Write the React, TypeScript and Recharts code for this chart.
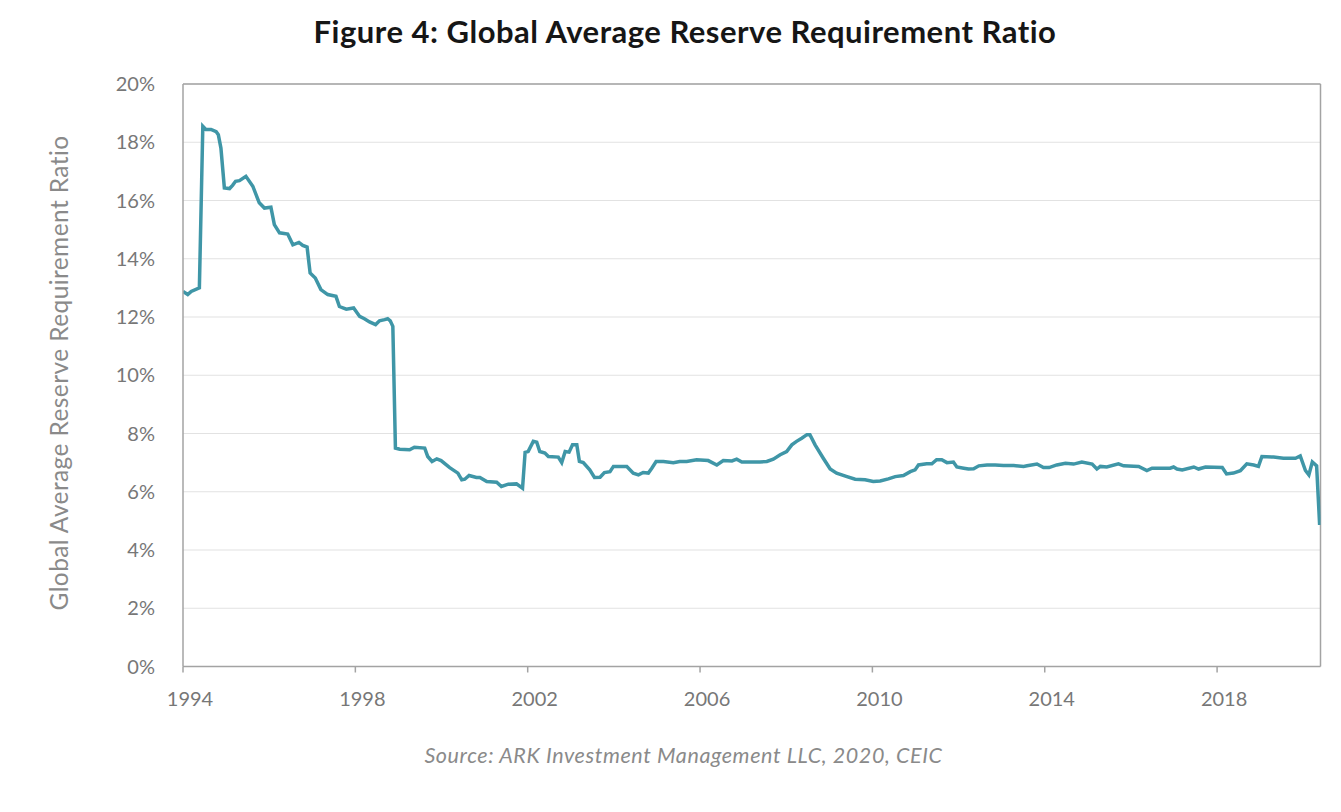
import React from "react";
import { LineChart, Line, XAxis, YAxis, CartesianGrid, ReferenceLine, Label } from "recharts";

const TITLE = "Figure 4: Global Average Reserve Requirement Ratio";
const SOURCE = "Source: ARK Investment Management LLC, 2020, CEIC";
const Y_LABEL = "Global Average Reserve Requirement Ratio";

const xTicks = [1994, 1998, 2002, 2006, 2010, 2014, 2018];
const yTicks = [0, 2, 4, 6, 8, 10, 12, 14, 16, 18, 20];

const dates = [
  1994.0, 1994.11, 1994.19, 1994.38, 1994.46, 1994.53, 1994.65, 1994.77, 1994.82, 1994.88,
  1994.96, 1995.08, 1995.15, 1995.22, 1995.31, 1995.46, 1995.62, 1995.77, 1995.89, 1996.04,
  1996.12, 1996.24, 1996.43, 1996.55, 1996.69, 1996.78, 1996.88, 1996.95, 1997.07, 1997.2,
  1997.36, 1997.55, 1997.63, 1997.79, 1997.96, 1998.1, 1998.21, 1998.33, 1998.47, 1998.56,
  1998.68, 1998.75, 1998.81, 1998.87, 1998.93, 1999.03, 1999.26, 1999.37, 1999.61, 1999.68,
  1999.78, 1999.89, 1999.99, 2000.19, 2000.38, 2000.47, 2000.54, 2000.64, 2000.81, 2000.89,
  2001.05, 2001.28, 2001.39, 2001.55, 2001.74, 2001.88, 2001.94, 2002.01, 2002.13, 2002.21,
  2002.28, 2002.4, 2002.48, 2002.71, 2002.79, 2002.87, 2002.96, 2003.04, 2003.14, 2003.2,
  2003.29, 2003.44, 2003.55, 2003.68, 2003.78, 2003.91, 2003.99, 2004.3, 2004.45, 2004.57,
  2004.68, 2004.8, 2004.88, 2004.98, 2005.15, 2005.38, 2005.53, 2005.69, 2005.92, 2006.19,
  2006.39, 2006.54, 2006.74, 2006.85, 2006.97, 2007.16, 2007.39, 2007.55, 2007.7, 2007.86,
  2008.01, 2008.13, 2008.24, 2008.36, 2008.48, 2008.55, 2008.67, 2008.86, 2009.02, 2009.17,
  2009.41, 2009.6, 2009.83, 2010.02, 2010.18, 2010.37, 2010.53, 2010.72, 2010.88, 2010.99,
  2011.07, 2011.26, 2011.38, 2011.49, 2011.61, 2011.73, 2011.88, 2011.96, 2012.12, 2012.23,
  2012.35, 2012.47, 2012.66, 2012.85, 2013.04, 2013.28, 2013.51, 2013.59, 2013.82, 2013.97,
  2014.1, 2014.28, 2014.48, 2014.67, 2014.86, 2015.1, 2015.21, 2015.29, 2015.44, 2015.71,
  2015.83, 2016.18, 2016.37, 2016.49, 2016.91, 2016.99, 2017.07, 2017.19, 2017.46, 2017.57,
  2017.73, 2018.12, 2018.22, 2018.38, 2018.54, 2018.69, 2018.85, 2018.96, 2019.04, 2019.31,
  2019.54, 2019.82, 2019.93, 2020.05, 2020.13, 2020.21, 2020.31, 2020.38,
];

const ratios = [
  12.88, 12.77, 12.88, 13.0, 18.55, 18.44, 18.44, 18.36, 18.26, 17.8,
  16.43, 16.41, 16.52, 16.66, 16.68, 16.83, 16.49, 15.92, 15.74, 15.77,
  15.17, 14.89, 14.85, 14.48, 14.56, 14.46, 14.4, 13.51, 13.34, 12.94,
  12.77, 12.71, 12.36, 12.27, 12.31, 12.02, 11.94, 11.83, 11.74, 11.87,
  11.91, 11.94, 11.87, 11.68, 7.5, 7.46, 7.44, 7.53, 7.5, 7.21,
  7.04, 7.13, 7.07, 6.83, 6.64, 6.41, 6.43, 6.56, 6.49, 6.49,
  6.35, 6.33, 6.18, 6.26, 6.27, 6.12, 7.35, 7.38, 7.73, 7.7,
  7.38, 7.33, 7.21, 7.19, 7.0, 7.38, 7.36, 7.61, 7.61, 7.04,
  7.0, 6.75, 6.49, 6.5, 6.66, 6.69, 6.87, 6.87, 6.64, 6.58,
  6.66, 6.64, 6.81, 7.04, 7.04, 7.0, 7.04, 7.04, 7.1, 7.07,
  6.92, 7.07, 7.06, 7.12, 7.02, 7.02, 7.02, 7.04, 7.12, 7.27,
  7.38, 7.61, 7.73, 7.84, 7.96, 7.96, 7.61, 7.15, 6.78, 6.64,
  6.52, 6.43, 6.41, 6.35, 6.37, 6.44, 6.52, 6.56, 6.69, 6.75,
  6.92, 6.96, 6.96, 7.1, 7.1, 7.0, 7.02, 6.85, 6.81, 6.78,
  6.79, 6.89, 6.92, 6.92, 6.9, 6.9, 6.87, 6.89, 6.95, 6.83,
  6.83, 6.92, 6.98, 6.95, 7.02, 6.95, 6.78, 6.87, 6.85, 6.96,
  6.89, 6.87, 6.73, 6.81, 6.81, 6.85, 6.78, 6.75, 6.85, 6.78,
  6.85, 6.83, 6.61, 6.64, 6.72, 6.96, 6.92, 6.87, 7.21, 7.19,
  7.15, 7.15, 7.23, 6.73, 6.58, 7.02, 6.89, 4.86,
];

const data = dates.map((d, i) => ({ date: d, ratio: ratios[i] }));

const X_MIN = 1994;
const X_MAX = 2020.4;
const AXIS_COLOR = "#a3a3a3";
const TEXT_COLOR = "#777777";
const LINE_COLOR = "#3f96a7";
const FONT = "Lato, 'Open Sans', sans-serif";

const YAxisTitle = () => (
  <text
    x={58}
    y={373}
    transform="rotate(-90, 58, 373)"
    textAnchor="middle"
    dominantBaseline="central"
    fill="#8a8a8a"
    fontSize={24.5}
    letterSpacing={0.4}
    fontFamily={FONT}
  >
    {Y_LABEL}
  </text>
);

export default function App() {
  return (
    <div style={{ position: "absolute", left: 0, top: 0, width: 1341, height: 812, background: "#fff", fontFamily: FONT }}>
      <div
        style={{
          position: "absolute",
          left: 0,
          top: 11,
          width: 1370,
          textAlign: "center",
          fontSize: 31,
          letterSpacing: "0.5px",
          lineHeight: "40px",
          fontWeight: 700,
          color: "#161616",
        }}
      >
        {TITLE}
      </div>
      <div style={{ position: "absolute", left: 0, top: 0 }}>
        <LineChart
          width={1341}
          height={812}
          data={data}
          margin={{ top: 84, left: 123, right: 20.5, bottom: 115.5 }}
        >
          <CartesianGrid horizontal vertical={false} stroke="#e2e2e2" strokeWidth={1.2} />
          <XAxis
            dataKey="date"
            type="number"
            domain={[X_MIN, X_MAX]}
            ticks={xTicks}
            allowDataOverflow
            height={30}
            stroke={AXIS_COLOR}
            strokeWidth={1.5}
            tickSize={6}
            tickMargin={19}
            tick={{ fill: TEXT_COLOR, fontSize: 20, fontFamily: FONT, dx: 7 }}
          />
          <YAxis
            type="number"
            domain={[0, 20]}
            ticks={yTicks}
            width={60}
            stroke={AXIS_COLOR}
            strokeWidth={1.5}
            tickLine={false}
            tickSize={0}
            tickMargin={28}
            tickFormatter={(v: number) => `${v}%`}
            tick={{ fill: TEXT_COLOR, fontSize: 20, fontFamily: FONT }}
          >
            <Label content={<YAxisTitle />} />
          </YAxis>
          <ReferenceLine y={20} stroke={AXIS_COLOR} strokeWidth={1.5} />
          <ReferenceLine x={X_MAX} stroke={AXIS_COLOR} strokeWidth={1.5} />
          <Line
            type="linear"
            dataKey="ratio"
            stroke={LINE_COLOR}
            strokeWidth={3.5}
            dot={false}
            isAnimationActive={false}
          />
        </LineChart>
      </div>
      <div
        style={{
          position: "absolute",
          left: 0,
          top: 741,
          width: 1367,
          textAlign: "center",
          fontSize: 21.5,
          letterSpacing: "0.6px",
          lineHeight: "28px",
          fontStyle: "italic",
          color: "#8a8a8a",
        }}
      >
        {SOURCE}
      </div>
    </div>
  );
}
